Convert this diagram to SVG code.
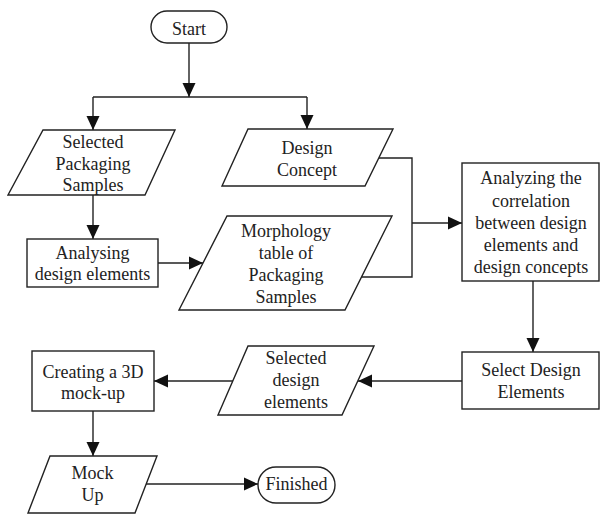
<svg xmlns="http://www.w3.org/2000/svg" width="601" height="514" viewBox="0 0 601 514">
<defs>
<marker id="ah" markerUnits="userSpaceOnUse" markerWidth="14" markerHeight="14" viewBox="0 0 14 14" refX="14" refY="7" orient="auto">
<path d="M0,0.5 L14,7 L0,13.5 Z" fill="#111"/>
</marker>
<style>
.s{fill:#fff;stroke:#222;stroke-width:1.4}
.c{fill:none;stroke:#222;stroke-width:1.4}
text{font-family:"Liberation Serif","Times New Roman",serif;font-size:18px;fill:#222;text-anchor:middle}
</style>
</defs>
<rect width="601" height="514" fill="#fff"/>
<g id="connectors">
<path class="c" d="M189,43 V97" marker-end="url(#ah)"/>
<path class="c" d="M93,97 H307"/>
<path class="c" d="M93,97 V130" marker-end="url(#ah)"/>
<path class="c" d="M307,97 V129" marker-end="url(#ah)"/>
<path class="c" d="M93,195 V239" marker-end="url(#ah)"/>
<path class="c" d="M158,263 H203" marker-end="url(#ah)"/>
<path class="c" d="M379,158 H412 V277 H361"/>
<path class="c" d="M412,223 H462" marker-end="url(#ah)"/>
<path class="c" d="M533,281 V352" marker-end="url(#ah)"/>
<path class="c" d="M462,381 H358" marker-end="url(#ah)"/>
<path class="c" d="M233,381 H154" marker-end="url(#ah)"/>
<path class="c" d="M93,411 V456" marker-end="url(#ah)"/>
<path class="c" d="M146,484 H258" marker-end="url(#ah)"/>
</g>
<g id="start">
<rect class="s" x="151" y="11" width="76" height="32" rx="16"/>
<text x="189" y="35">Start</text>
</g>
<g id="selected-packaging-samples">
<polygon class="s" points="43,130 175,130 145,195 8,195"/>
<text x="93" y="148">Selected</text>
<text x="93" y="169.5">Packaging</text>
<text x="93" y="191">Samples</text>
</g>
<g id="design-concept">
<polygon class="s" points="248,129 393,129 365,186 222,186"/>
<text x="307" y="154">Design</text>
<text x="307" y="176">Concept</text>
</g>
<g id="analysing-design-elements">
<rect class="s" x="27" y="239" width="131" height="48"/>
<text x="92.5" y="259">Analysing</text>
<text x="92.5" y="280">design elements</text>
</g>
<g id="morphology-table">
<polygon class="s" points="227,216 392,216 345,310 179,310"/>
<text x="286" y="237">Morphology</text>
<text x="286" y="259">table of</text>
<text x="286" y="281">Packaging</text>
<text x="286" y="303">Samples</text>
</g>
<g id="analyzing-correlation">
<rect class="s" x="462" y="163" width="137" height="118"/>
<text x="531" y="184">Analyzing the</text>
<text x="531" y="207">correlation</text>
<text x="531" y="229">between design</text>
<text x="531" y="251">elements and</text>
<text x="531" y="273">design concepts</text>
</g>
<g id="select-design-elements">
<rect class="s" x="462" y="352" width="137" height="57"/>
<text x="531" y="376">Select Design</text>
<text x="531" y="398">Elements</text>
</g>
<g id="selected-design-elements">
<polygon class="s" points="248,346 374,346 342,415 218,415"/>
<text x="296" y="364">Selected</text>
<text x="296" y="386">design</text>
<text x="296" y="408">elements</text>
</g>
<g id="creating-mockup">
<rect class="s" x="32" y="351" width="122" height="60"/>
<text x="93" y="378">Creating a 3D</text>
<text x="93" y="399">mock-up</text>
</g>
<g id="mock-up">
<polygon class="s" points="50,456 157,456 135,513 28,513"/>
<text x="92.5" y="479">Mock</text>
<text x="92.5" y="501">Up</text>
</g>
<g id="finished">
<rect class="s" x="258" y="467" width="77" height="36" rx="18"/>
<text x="296.5" y="490">Finished</text>
</g>
</svg>
